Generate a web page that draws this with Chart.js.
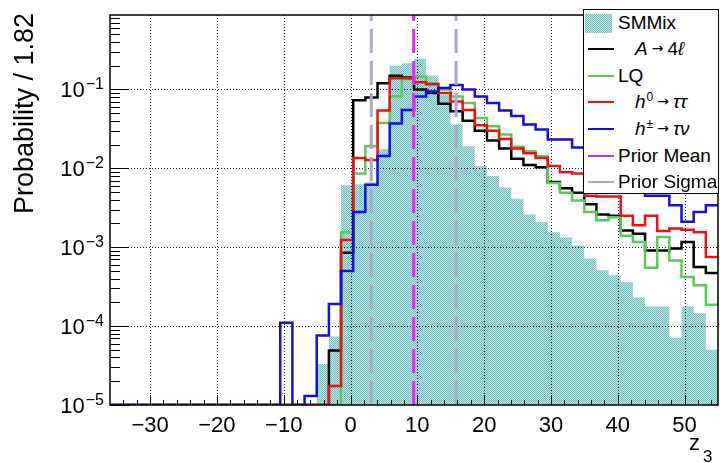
<!DOCTYPE html>
<html lang="en">
<head>
  <meta charset="UTF-8" />
  <title>z3 prior comparison</title>
  <script src="https://cdn.jsdelivr.net/npm/chart.js"></script>
  <style>
    html, body { margin: 0; padding: 0; background: #fff; }
    #wrap {
      position: relative;
      width: 720px;
      height: 463px;
      font-family: "Liberation Sans", Arial, sans-serif;
    }
    #chart { position: absolute; left: 0; top: 0; }
    .legend {
      position: absolute;
      left: 583px;
      top: 9px;
      width: 136px;
      height: 185px;
      box-sizing: border-box;
      border: 1px solid #000;
      background: #fff;
    }
    .row {
      position: absolute;
      left: 0;
      width: 134px;
      height: 26px;
      font-size: 19px;
      line-height: 26px;
      white-space: nowrap;
    }
    .row .txt { position: absolute; left: 34px; top: 0; }
    .row .tex { position: absolute; left: 51px; top: 0; }
    .row .ln {
      position: absolute;
      left: 4px;
      width: 26px;
      top: 12px;
      height: 0;
      border-top: 2.5px solid #000;
    }
    .row .box {
      position: absolute;
      left: 1px;
      top: 4px;
      width: 27px;
      height: 19px;
      background-color: #95d2d2;
      background-image: repeating-conic-gradient(#70bdbd 0 25%, #bfe5e4 0 50%);
      background-size: 2px 2px;
    }
    .tex i { font-style: italic; }
    .tex sup { font-size: 12px; vertical-align: 7px; line-height: 0; margin-left: 1px; }
    .tex .arr {
      font-family: "DejaVu Sans", sans-serif;
      font-size: 14px;
      margin: 0 4px;
      position: relative;
      top: -2px;
    }
  </style>
</head>
<body>
  <div id="wrap">
    <canvas id="chart" width="720" height="463"></canvas>
    <div class="legend">
      <div class="row" style="top:0px"><span class="box"></span><span class="txt">SMMix</span></div>
      <div class="row" style="top:26px"><span class="ln" style="border-color:#000"></span><span class="tex"><i>A</i><span class="arr">→</span>4<i>ℓ</i></span></div>
      <div class="row" style="top:53px"><span class="ln" style="border-color:#5cc85c"></span><span class="txt">LQ</span></div>
      <div class="row" style="top:79px"><span class="ln" style="border-color:#ee1111"></span><span class="tex"><i>h</i><sup>0</sup><span class="arr">→</span><i>ττ</i></span></div>
      <div class="row" style="top:106px"><span class="ln" style="border-color:#1111dd"></span><span class="tex"><i>h</i><sup>±</sup><span class="arr">→</span><i>τν</i></span></div>
      <div class="row" style="top:133px"><span class="ln" style="border-color:#cc33cc"></span><span class="txt">Prior Mean</span></div>
      <div class="row" style="top:159px"><span class="ln" style="border-color:#a8a8c8"></span><span class="txt">Prior Sigma</span></div>
    </div>
  </div>

  <script>
    // binning: 50 bins of width 1.82 starting at -36
    const binLow = -36;
    const binWidth = 1.82;

    const xTicks = [-30, -20, -10, 0, 10, 20, 30, 40, 50];
    const yTickExps = [-1, -2, -3, -4, -5];
    const yMin = 1e-5;
    const yMax = 0.877;

    const priorMean = 9.45;
    const priorSigma = 6.35;

    // bin contents (0 = empty bin, drawn on the bottom of the frame)
    const smmix = [
      0, 0, 0, 0, 0, 0, 0, 0, 0, 0,
      0, 0, 0, 0, 0, 0, 0, 3.3e-5, 7.4e-5, 0.0061,
      0.0063, 0.0066, 0.0174, 0.20, 0.214, 0.245, 0.15, 0.085, 0.036, 0.019,
      0.0107, 0.008, 0.0057, 0.0041, 0.0026, 0.0021, 0.00155, 0.00134, 0.00105, 0.00072,
      0.00051, 0.00044, 0.00036, 0.00023, 0.000177, 0.000177, 7.1e-5, 0.000177, 0.000145, 5.0e-5
    ];
    const a4l = [
      0, 0, 0, 0, 0, 0, 0, 0, 0, 0,
      0, 0, 0, 0, 0, 0, 0, 0, 4.9e-5, 0.00085,
      0.073, 0.079, 0.12, 0.149, 0.142, 0.1, 0.09, 0.066, 0.053, 0.040,
      0.030, 0.0225, 0.0178, 0.0132, 0.011, 0.0103, 0.0067, 0.0056, 0.0049, 0.0035,
      0.0026, 0.0025, 0.00163, 0.00148, 0.00091, 0.00091, 0.00096, 0.00116, 0.00056, 0.00047
    ];
    const lq = [
      0, 0, 0, 0, 0, 0, 0, 0, 0, 0,
      0, 0, 0, 0, 0, 0, 0, 0, 0, 0.00155,
      0.0086, 0.019, 0.0376, 0.082, 0.135, 0.145, 0.12, 0.1, 0.081, 0.067,
      0.0435, 0.034, 0.0268, 0.0188, 0.0164, 0.0142, 0.0065, 0.0049, 0.0039, 0.0028,
      0.0022, 0.0024, 0.0014, 0.00116, 0.00055, 0.00135, 0.00068, 0.00042, 0.00033, 0.000186
    ];
    const h0TauTau = [
      0, 0, 0, 0, 0, 0, 0, 0, 0, 0,
      0, 0, 0, 0, 0, 0, 0, 0, 1.74e-5, 0.00123,
      0.0135, 0.0127, 0.054, 0.138, 0.138, 0.123, 0.116, 0.09, 0.07, 0.055,
      0.035, 0.030, 0.0235, 0.0178, 0.0155, 0.0135, 0.0107, 0.0089, 0.0086, 0.0045,
      0.0044, 0.0044, 0.0025, 0.0019, 0.0025, 0.0016, 0.00173, 0.00167, 0.00155, 0.00075
    ];
    const hpmTauNu = [
      0, 0, 0, 0, 0, 0, 0, 0, 0, 0,
      0, 0, 0, 0, 0.00011, 0, 1.3e-5, 7.6e-5, 0.00019, 0.0005,
      0.0028, 0.0062, 0.0143, 0.037, 0.055, 0.081, 0.094, 0.104, 0.114, 0.1,
      0.081, 0.067, 0.054, 0.046, 0.036, 0.031, 0.0232, 0.0232, 0.0183, 0.013,
      0.011, 0.0088, 0.0072, 0.0057, 0.0045, 0.0045, 0.0034, 0.0021, 0.0028, 0.0034
    ];

    const FONT = '"Liberation Sans", Arial, sans-serif';

    // one point per bin low edge, plus the closing upper edge.
    // log axis can't take 0, so empty bins sit on the axis minimum
    function histPoints(vals) {
      const pts = vals.map((v, i) => ({ x: binLow + i * binWidth, y: v > 0 ? v : yMin }));
      pts.push({ x: binLow + vals.length * binWidth, y: pts[pts.length - 1].y });
      return pts;
    }

    function vline(xv) {
      return [{ x: xv, y: yMin }, { x: xv, y: yMax }];
    }

    function histLine(label, vals, color, order) {
      return {
        label: label,
        data: histPoints(vals),
        borderColor: color,
        borderWidth: 2.5,
        stepped: 'before',
        pointRadius: 0,
        fill: false,
        order: order
      };
    }

    function dashLine(label, xv, color) {
      return {
        label: label,
        data: vline(xv),
        borderColor: color,
        borderWidth: 3,
        borderDash: [24, 8],
        pointRadius: 0,
        fill: false,
        order: 0
      };
    }

    // dotted teal fill like the ROOT pattern
    const pc = document.createElement('canvas');
    pc.width = 2;
    pc.height = 2;
    const pctx = pc.getContext('2d');
    pctx.fillStyle = '#bfe5e4';
    pctx.fillRect(0, 0, 2, 2);
    pctx.fillStyle = '#70bdbd';
    pctx.fillRect(0, 0, 1, 1);
    pctx.fillRect(1, 1, 1, 1);
    const tealFill = pctx.createPattern(pc, 'repeat');

    function line(ctx, x1, y1, x2, y2) {
      ctx.beginPath();
      ctx.moveTo(x1, y1);
      ctx.lineTo(x2, y2);
      ctx.stroke();
    }

    const rootAxes = {
      id: 'rootAxes',
      // dotted grid right above the filled histogram, under the lines
      afterDatasetDraw(chart, args) {
        if (chart.data.datasets[args.index].label !== 'SMMix') return;
        const { ctx, chartArea: a, scales: { x, y } } = chart;
        ctx.save();
        ctx.strokeStyle = '#222';
        ctx.lineWidth = 1;
        ctx.setLineDash([1, 2]);
        xTicks.forEach(v => {
          const p = Math.round(x.getPixelForValue(v)) + 0.5;
          line(ctx, p, a.top, p, a.bottom);
        });
        yTickExps.forEach(n => {
          if (n === -5) return;
          const p = Math.round(y.getPixelForValue(Math.pow(10, n))) + 0.5;
          line(ctx, a.left, p, a.right, p);
        });
        ctx.restore();
      },
      afterDraw(chart) {
        const { ctx, chartArea: a, scales: { x, y } } = chart;
        ctx.save();
        ctx.strokeStyle = '#000';
        ctx.lineWidth = 1;
        // x ticks: major every 10, minor every 2
        for (let v = -34; v <= 54; v += 2) {
          const p = Math.round(x.getPixelForValue(v)) + 0.5;
          const len = v % 10 === 0 ? 10 : 5;
          line(ctx, p, a.bottom, p, a.bottom - len);
        }
        // y ticks: decades and 2..9 minors
        for (let n = -5; n <= -1; n++) {
          for (let m = 1; m <= 9; m++) {
            const v = m * Math.pow(10, n);
            if (v > yMax) break;
            const p = Math.round(y.getPixelForValue(v)) + 0.5;
            line(ctx, a.left, p, a.left + (m === 1 ? 19 : 10), p);
          }
        }
        // frame
        ctx.lineWidth = 1.5;
        ctx.strokeRect(a.left, a.top, a.right - a.left, a.bottom - a.top);

        // y tick labels 10^n
        ctx.fillStyle = '#000';
        ctx.textBaseline = 'alphabetic';
        yTickExps.forEach(n => {
          const py = y.getPixelForValue(Math.pow(10, n));
          const sup = '\u2212' + (-n);
          ctx.font = '16px ' + FONT;
          const sw = ctx.measureText(sup).width;
          const sx = a.left - 6 - sw;
          ctx.textAlign = 'left';
          ctx.fillText(sup, sx, py);
          ctx.font = '22px ' + FONT;
          ctx.textAlign = 'right';
          ctx.fillText('10', sx - 1, py + 8);
        });

        // axis titles
        ctx.font = '27px ' + FONT;
        ctx.textAlign = 'right';
        ctx.textBaseline = 'middle';
        ctx.translate(26, 13);
        ctx.rotate(-Math.PI / 2);
        ctx.fillText('Probability / 1.82', 0, 0);
        ctx.setTransform(1, 0, 0, 1, 0, 0);

        ctx.textAlign = 'left';
        ctx.textBaseline = 'alphabetic';
        ctx.font = '22px ' + FONT;
        ctx.fillText('z', 689, 450);
        ctx.font = '17px ' + FONT;
        ctx.fillText('3', 703, 462);
        ctx.restore();
      }
    };

    new Chart(document.getElementById('chart'), {
      type: 'line',
      data: {
        datasets: [
          dashLine('Prior Mean', priorMean, '#ee22ee'),
          dashLine('Prior Sigma', priorMean - priorSigma, '#a9a9c6'),
          dashLine('Prior Sigma', priorMean + priorSigma, '#a9a9c6'),
          histLine('h\u00b1 \u2192 \u03c4\u03bd', hpmTauNu, '#1111dd', 1),
          histLine('h0 \u2192 \u03c4\u03c4', h0TauTau, '#ee1111', 2),
          histLine('LQ', lq, '#5cc85c', 3),
          histLine('A \u2192 4\u2113', a4l, '#000000', 4),
          {
            label: 'SMMix',
            data: histPoints(smmix),
            stepped: 'before',
            borderWidth: 0,
            borderColor: 'rgba(0,0,0,0)',
            backgroundColor: tealFill,
            fill: 'start',
            pointRadius: 0,
            order: 5
          }
        ]
      },
      options: {
        responsive: false,
        animation: false,
        events: [],
        layout: { padding: { left: 110, right: 2, top: 15, bottom: 0 } },
        plugins: {
          legend: { display: false },
          tooltip: { enabled: false }
        },
        scales: {
          x: {
            type: 'linear',
            min: binLow,
            max: binLow + smmix.length * binWidth,
            afterBuildTicks: scale => { scale.ticks = xTicks.map(v => ({ value: v })); },
            afterFit: scale => { scale.height = 58; },
            grid: { display: false, drawTicks: false },
            border: { display: false },
            ticks: {
              autoSkip: false,
              maxRotation: 0,
              padding: 8,
              color: '#000',
              font: { size: 22, family: FONT },
              callback: v => (v < 0 ? '\u2212' + (-v) : String(v))
            }
          },
          y: {
            type: 'logarithmic',
            min: yMin,
            max: yMax,
            display: false
          }
        }
      },
      plugins: [rootAxes]
    });
  </script>
</body>
</html>
